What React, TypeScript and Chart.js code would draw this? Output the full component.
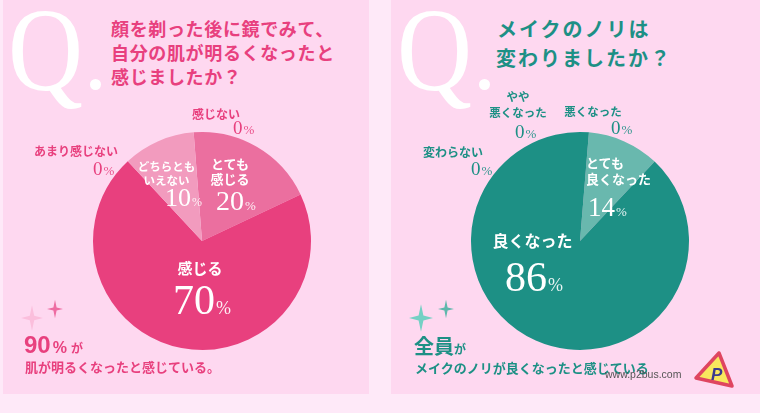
import React, { useEffect, useRef } from "react";
import { Chart, registerables } from "chart.js";

Chart.register(...registerables);

// ---- Data ----
const beautyCategories = ["とても\n感じる", "感じる", "どちらとも\nいえない", "あまり感じない", "感じない"];
const beautyPrinted = [20, 70, 10, 0, 0];
// shares as drawn in the picture's wedges
const beautyDrawn = [19.2, 70.1, 10.7, 0, 0];

const makeupCategories = ["とても\n良くなった", "良くなった", "変わらない", "やや\n悪くなった", "悪くなった"];
const makeupPrinted = [14, 86, 0, 0, 0];
// the wedge in the picture is narrower than its printed 14%
const makeupDrawn = [10.7, 89.3, 0, 0, 0];

const beautyTitle = ["顔を剃った後に鏡でみて、", "自分の肌が明るくなったと", "感じましたか？"];
const makeupTitle = ["メイクのノリは", "変わりましたか？"];

// ---- Styles ----
const PINK = "#E8407E";
const TEAL = "#1D9085";
const SERIF = '"Liberation Serif", serif';
const CJK = '"Noto Sans CJK JP", sans-serif';
const SANS = '"Liberation Sans", sans-serif';

const beautyColors = ["#EB6F9F", "#E8407E", "#F29BBE", "#E8407E", "#E8407E"];
const makeupColors = ["#69B8AE", "#1D9085", "#1D9085", "#1D9085", "#1D9085"];

type P = { x: number; y: number; c: string; s: number; lh?: number; a?: "l" | "c"; ps?: number };

const beautyNameLayout: P[] = [
  { x: 230, y: 170.5, c: "#fff", s: 13, lh: 15 },
  { x: 200, y: 267, c: "#fff", s: 15 },
  { x: 166.5, y: 173, c: "#fff", s: 11.5, lh: 14 },
  { x: 76, y: 151, c: PINK, s: 12 },
  { x: 216, y: 114, c: PINK, s: 12 },
];
const beautyNumLayout: P[] = [
  { x: 216, y: 201, c: "#fff", s: 28, ps: 13 },
  { x: 173, y: 300, c: "#fff", s: 42, ps: 18 },
  { x: 165, y: 198, c: "#fff", s: 26, ps: 12 },
  { x: 93, y: 168, c: PINK, s: 19, ps: 13 },
  { x: 233, y: 127, c: PINK, s: 19, ps: 13 },
];
const makeupNameLayout: P[] = [
  { x: 586, y: 171, c: "#fff", s: 13, lh: 16, a: "l" },
  { x: 532.5, y: 240, c: "#fff", s: 16 },
  { x: 453, y: 152, c: TEAL, s: 12 },
  { x: 518, y: 104, c: TEAL, s: 11.5, lh: 16 },
  { x: 593, y: 112, c: TEAL, s: 11.5 },
];
const makeupNumLayout: P[] = [
  { x: 588, y: 207, c: "#fff", s: 27, ps: 13 },
  { x: 505, y: 277, c: "#fff", s: 42, ps: 18 },
  { x: 471, y: 168, c: TEAL, s: 19, ps: 13 },
  { x: 515, y: 131, c: TEAL, s: 19, ps: 13 },
  { x: 611, y: 127, c: TEAL, s: 19, ps: 13 },
];

function Text(props: {
  x: number;
  y: number;
  children: React.ReactNode;
  c: string;
  s: number;
  lh?: number;
  a?: "l" | "c";
  f?: string;
  w?: number;
  ls?: number;
}) {
  const { x, y, children, c, s, lh, a = "c", f = CJK, w = 700, ls = 0 } = props;
  return (
    <div
      style={{
        position: "absolute",
        left: x,
        top: y,
        transform: a === "c" ? "translate(-50%,-50%)" : "translate(0,-50%)",
        color: c,
        fontSize: s,
        lineHeight: lh ? `${lh}px` : 1,
        fontFamily: f,
        fontWeight: w,
        letterSpacing: ls,
        whiteSpace: "pre",
        textAlign: a === "c" ? "center" : "left",
      }}
    >
      {children}
    </div>
  );
}

function Percent({ v, p }: { v: number; p: P }) {
  return (
    <Text x={p.x} y={p.y} c={p.c} s={p.s} a="l" f={SERIF} w={400}>
      {v}
      <span style={{ fontSize: p.ps, marginLeft: 1, opacity: 0.9 }}>%</span>
    </Text>
  );
}

function Pie({ cx, cy, data, colors, rotation, labels }: { cx: number; cy: number; data: number[]; colors: string[]; rotation: number; labels: string[] }) {
  const ref = useRef<HTMLCanvasElement>(null);
  useEffect(() => {
    const chart = new Chart(ref.current!, {
      type: "pie",
      data: {
        labels,
        datasets: [{ data, backgroundColor: colors, borderWidth: 0 }],
      },
      options: {
        animation: false,
        responsive: false,
        rotation,
        radius: 109,
        layout: { padding: 0 },
        plugins: { legend: { display: false }, tooltip: { enabled: false } },
      },
    });
    return () => chart.destroy();
  }, []);
  return (
    <canvas
      ref={ref}
      width={230}
      height={230}
      style={{ position: "absolute", left: cx - 115, top: cy - 115, width: 230, height: 230 }}
    />
  );
}

function Sparkle({ x, y, r, c, o = 1 }: { x: number; y: number; r: number; c: string; o?: number }) {
  const k = r * 0.2;
  const v = r * 1.15;
  const d = `M${x} ${y - v}L${x + k} ${y - k}L${x + r} ${y}L${x + k} ${y + k}L${x} ${y + v}L${x - k} ${y + k}L${x - r} ${y}L${x - k} ${y - k}Z`;
  return <path d={d} fill={c} opacity={o} />;
}

function Mark({ x, dotX }: { x: number; dotX: number }) {
  return (
    <>
      <div
        style={{
          position: "absolute",
          left: x,
          top: -5,
          color: "#fff",
          fontFamily: SERIF,
          fontSize: 118,
          lineHeight: "112px",
          transform: "scaleX(0.88)",
          transformOrigin: "left top",
        }}
      >
        Q
      </div>
      <div
        style={{
          position: "absolute",
          left: dotX - 5.5,
          top: 78.5,
          width: 11,
          height: 11,
          borderRadius: "50%",
          background: "#fff",
        }}
      />
    </>
  );
}

export default function App() {
  return (
    <div
      style={{
        position: "fixed",
        left: 0,
        top: 0,
        width: 760,
        height: 413,
        overflow: "hidden",
        background: "#FEE9F8",
      }}
    >
      <div style={{ position: "absolute", left: 3, top: 0, width: 366, height: 394, background: "#FED8F0" }} />
      <div style={{ position: "absolute", left: 391, top: 0, width: 369, height: 394, background: "#FED8F0" }} />

      <Mark x={8} dotX={95} />
      <Mark x={397} dotX={484} />

      {beautyTitle.map((t, i) => (
        <Text key={t} x={111} y={28 + i * 24} a="l" c={PINK} s={18} ls={0.65}>
          {t}
        </Text>
      ))}
      {makeupTitle.map((t, i) => (
        <Text key={t} x={i === 0 ? 497 : 496} y={29 + i * 29} a="l" c={TEAL} s={20} ls={2}>
          {t}
        </Text>
      ))}

      <Pie cx={201.7} cy={241} data={beautyDrawn} colors={beautyColors} rotation={-4.4} labels={beautyCategories} />
      <Pie cx={580} cy={241} data={makeupDrawn} colors={makeupColors} rotation={4.7} labels={makeupCategories} />

      {beautyCategories.map((t, i) => (
        <Text key={t} {...beautyNameLayout[i]}>
          {t}
        </Text>
      ))}
      {beautyPrinted.map((v, i) => (
        <Percent key={i} v={v} p={beautyNumLayout[i]} />
      ))}
      {makeupCategories.map((t, i) => (
        <Text key={t} {...makeupNameLayout[i]}>
          {t}
        </Text>
      ))}
      {makeupPrinted.map((v, i) => (
        <Percent key={i} v={v} p={makeupNumLayout[i]} />
      ))}

      <svg style={{ position: "absolute", left: 0, top: 0 }} width={760} height={413}>
        <Sparkle x={32} y={318} r={11} c="#FBBEDC" />
        <Sparkle x={55} y={309} r={8} c="#EE6CA2" />
        <Sparkle x={421} y={318} r={12} c="#74D0C4" />
        <Sparkle x={446} y={309} r={8} c="#5FB8AC" />
        <polygon
          points="719,353 696,378 732,386"
          fill="#F8E85E"
          stroke="#DF4560"
          strokeWidth={3.5}
          strokeLinejoin="round"
        />
        <text x={711} y={380} fill="#3B3B8E" fontFamily={SANS} fontWeight={700} fontStyle="italic" fontSize={17}>
          P
        </text>
      </svg>

      <Text x={24} y={345} a="l" c={PINK} s={24} f={SANS}>
        90
        <span style={{ fontSize: 16, marginLeft: 2 }}>%</span>
        <span style={{ fontSize: 12, fontFamily: CJK, marginLeft: 4 }}>が</span>
      </Text>
      <Text x={25} y={366} a="l" c={PINK} s={13}>
        肌が明るくなったと感じている。
      </Text>

      <Text x={414} y={346} a="l" c={TEAL} s={20}>
        全員
        <span style={{ fontSize: 12 }}>が</span>
      </Text>
      <Text x={415} y={367} a="l" c={TEAL} s={13}>
        メイクのノリが良くなったと感じている
      </Text>

      <Text x={605} y={374} a="l" c="#555" s={10.5} f={SANS} w={400}>
        www.p2bus.com
      </Text>
    </div>
  );
}
